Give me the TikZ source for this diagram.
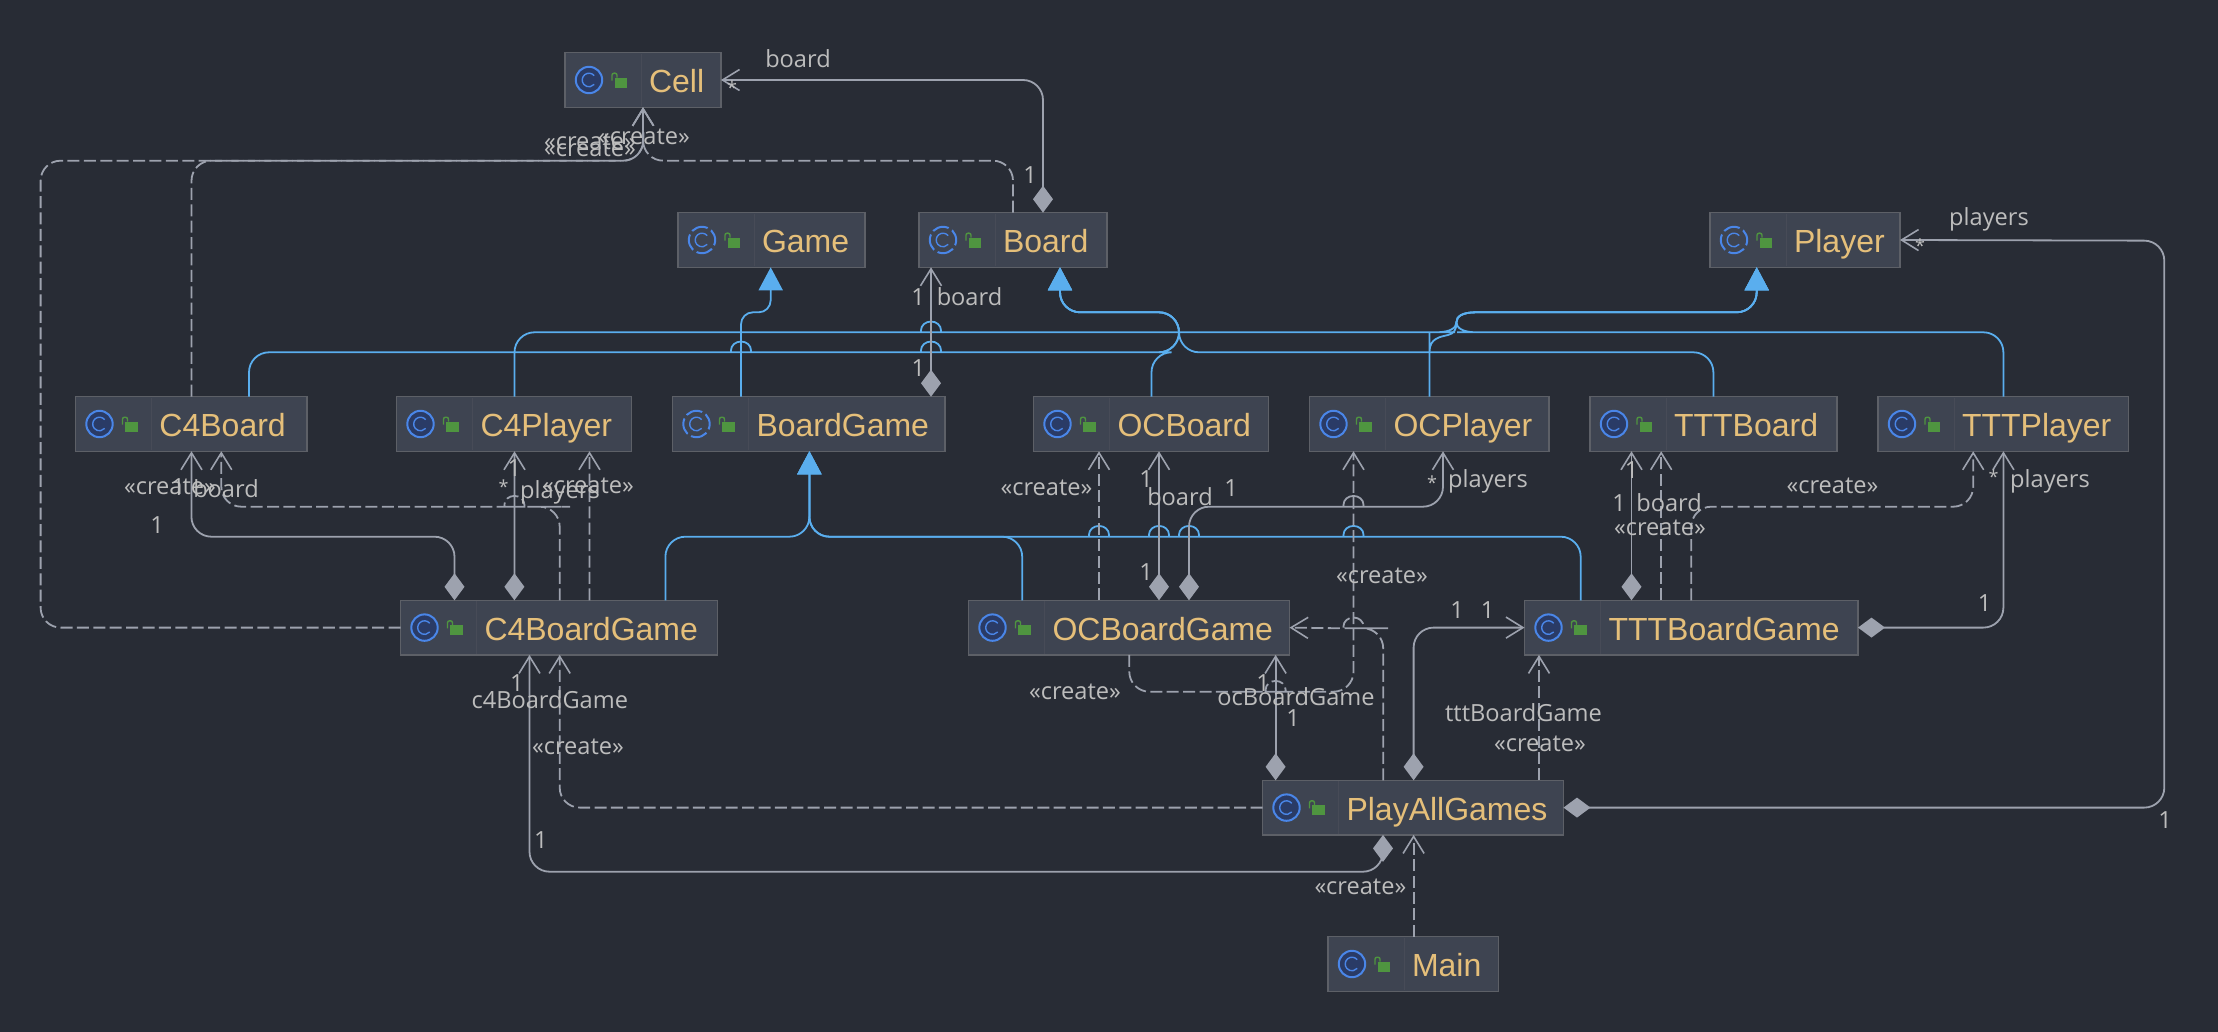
\documentclass[tikz,border=0pt]{standalone}
\usepackage{fontspec}
\usetikzlibrary{arrows.meta}
\newfontfamily\namefont{Liberation Sans}
\newfontfamily\lblfont{Open Sans}
\definecolor{bgc}{HTML}{282C35}
\definecolor{boxc}{HTML}{3E4451}
\definecolor{edgec}{HTML}{5D6067}
\definecolor{namec}{HTML}{E5BF7A}
\definecolor{linec}{HTML}{9DA2AE}
\definecolor{bluec}{HTML}{5AAEEE}
\definecolor{lblc}{HTML}{BDBDBD}
\definecolor{iconb}{HTML}{4A86E8}
\definecolor{iconf}{HTML}{2A3B66}
\definecolor{greenc}{HTML}{4F9540}
\definecolor{sepc}{HTML}{474B57}
\newcommand{\atT}[2]{([xshift=#2*0.5pt]#1.north west)}
\newcommand{\atB}[2]{([xshift=#2*0.5pt]#1.south west)}
\newcommand{\hopR}[2]{-- (#1-11,#2) [sharp corners] -- (#1-10,#2) -- (#1-10,#2-2) arc[start angle=180,end angle=0,x radius=5pt,y radius=4.4pt] -- (#1+10,#2) -- (#1+11,#2) [rounded corners=10pt] }
\newcommand{\hopL}[2]{-- (#1+11,#2) [sharp corners] -- (#1+10,#2) -- (#1+10,#2-2) arc[start angle=0,end angle=180,x radius=5pt,y radius=4.4pt] -- (#1-10,#2) -- (#1-11,#2) [rounded corners=10pt] }
\newcommand{\joinP}{.. controls (1456.4,316) and (1463,312.3) .. (1476,312.3) -- (1477,312.3) [rounded corners=10pt] -- (1756.7,312.3) -- \atB{Player}{46.7}}
\newcommand{\lockicon}[1]{%
  \draw[sepc,line width=0.5pt] ([shift={(76,1)}]#1.north west) -- ([shift={(76,-1)}]#1.south west);
  \fill[greenc] ([shift={(49.5,25)}]#1.north west) rectangle ([shift={(62,35)}]#1.north west);
  \draw[greenc,line width=0.7pt,rounded corners=1pt] ([shift={(47,28)}]#1.north west) -- ([shift={(47,20.5)}]#1.north west) -- ([shift={(52,20.5)}]#1.north west) -- ([shift={(52,25)}]#1.north west);}
\newcommand{\letterc}[1]{\draw[iconb,line width=0.7pt] ([shift={(24,27.3)}]#1.north west) ++(40:3.4pt) arc[start angle=40,end angle=320,radius=3.4pt];}
\newcommand{\clsicon}[1]{\lockicon{#1}%
  \draw[iconb,fill=iconf,line width=1pt] ([shift={(24,27.3)}]#1.north west) circle[radius=6.6pt];
  \letterc{#1}}
\newcommand{\absicon}[1]{\lockicon{#1}%
  \draw[iconb,line width=1pt,dash pattern=on 8.4pt off 2pt,dash phase=3pt] ([shift={(24,27.3)}]#1.north west) circle[radius=6.6pt];
  \letterc{#1}}
\tikzset{
  cls/.style={draw=edgec,fill=boxc,line width=0.7pt,anchor=north west,inner sep=0pt,outer sep=0pt,
    minimum height=27.3pt,text=namec,align=left,font=\namefont\fontsize{16}{16}\selectfont,
    text height=12.5pt,text depth=0pt},
  lbl/.style={text=lblc,inner sep=0pt,font=\lblfont\fontsize{11.8}{12}\selectfont},
  star/.style={text=lblc,inner sep=0pt,font=\lblfont\fontsize{9}{9}\selectfont},
  conn/.style={line width=0.9pt,rounded corners=10pt},
  open/.tip={Straight Barb[length=8.5pt,width=10.5pt,line width=0.8pt]},
  comp/.style={conn,draw=linec,{Diamond[length=13.5pt,width=10pt,fill=linec]}-{open}},
  dep/.style={conn,draw=linec,dash pattern=on 6pt off 2.2pt,-{open}},
  gen/.style={conn,draw=bluec,-{Triangle[length=11.5pt,width=12pt,fill=bluec]}}
}
\newcommand{\klass}[5]{\node[cls,minimum width=#4*0.5pt,text width=#4*0.5pt] (#1) at (#2,#3) {\hspace*{42pt}#5};}
\begin{document}
\begin{tikzpicture}[x=0.5pt,y=-0.5pt]
\fill[bgc] (0,0) rectangle (2218,1032);
\useasboundingbox (0,0) rectangle (2218,1032);
% classes
\klass{Cell}{565}{52.7}{156}{Cell}
\klass{Game}{678}{212.7}{187}{Game}
\klass{Board}{919}{212.7}{188}{Board}
\klass{Player}{1710}{212.7}{190}{Player}
\klass{C4Board}{75.5}{396.7}{231.5}{C4Board}
\klass{C4Player}{396.5}{396.7}{235}{C4Player}
\klass{BoardGame}{672.5}{396.7}{272.5}{BoardGame}
\klass{OCBoard}{1033.5}{396.7}{235}{OCBoard}
\klass{OCPlayer}{1309.5}{396.7}{239.5}{OCPlayer}
\klass{TTTBoard}{1590}{396.7}{247}{TTTBoard}
\klass{TTTPlayer}{1878}{396.7}{250.5}{TTTPlayer}
\klass{C4BG}{400.5}{600.3}{317}{C4BoardGame}
\klass{OCBG}{968.5}{600.3}{321}{OCBoardGame}
\klass{TTTBG}{1524.5}{600.3}{333.5}{TTTBoardGame}
\klass{PAG}{1262.5}{780.3}{301}{PlayAllGames}
\klass{Main}{1328}{936.7}{170.5}{Main}
\clsicon{Cell}\absicon{Game}\absicon{Board}\absicon{Player}
\clsicon{C4Board}\clsicon{C4Player}\absicon{BoardGame}\clsicon{OCBoard}\clsicon{OCPlayer}
\clsicon{TTTBoard}\clsicon{TTTPlayer}\clsicon{C4BG}\clsicon{OCBG}\clsicon{TTTBG}\clsicon{PAG}\clsicon{Main}
% generalisations
\draw[gen] \atT{C4Board}{173.5} |- (700,352.3) \hopR{741}{352.3} \hopR{931}{352.3} -- (1179,352.3) |- (1060,312.3) -- \atB{Board}{141};
\draw[gen] \atT{OCBoard}{118} |- (1179,352.3) |- (1060,312.3) -- \atB{Board}{141};
\draw[gen] \atT{TTTBoard}{123.4} |- (1179,352.3) |- (1060,312.3) -- \atB{Board}{141};
\draw[gen,rounded corners=6pt] \atT{BoardGame}{68.5} |- (770.7,312.3) -- \atB{Game}{92.7};
\draw[gen] \atT{C4Player}{118} |- (900,332.3) \hopR{931}{332.3} -- (1435,332.3) [sharp corners] -- (1436,332.3) .. controls (1450,332.3) and (1456.4,328) .. (1456.4,322.3) \joinP;
\draw[gen] \atT{OCPlayer}{120} -- (1429.5,353) [sharp corners] -- (1429.5,352) .. controls (1429.5,338) and (1440,337) .. (1448,335) .. controls (1454,333.5) and (1456.4,330) .. (1456.4,322.3) \joinP;
\draw[gen] \atT{TTTPlayer}{125.4} |- (1477,332.3) [sharp corners] -- (1476,332.3) .. controls (1463,332.3) and (1456.4,328) .. (1456.4,322.3) \joinP;
\draw[gen] \atT{C4BG}{264.9} |- (809.4,536.7) -- \atB{BoardGame}{136.9};
\draw[gen] \atT{OCBG}{53.7} |- (809.4,536.7) -- \atB{BoardGame}{136.9};
\draw[gen] \atT{TTTBG}{56.2} |- (1400,536.7) \hopL{1353.5}{536.7} \hopL{1189}{536.7} \hopL{1159}{536.7} \hopL{1099}{536.7} -- (809.4,536.7) -- \atB{BoardGame}{136.9};
% compositions
\draw[comp] \atT{Board}{124} |- (Cell.east);
\draw[comp] \atT{BoardGame}{258.5} -- \atB{Board}{12};
\draw[comp] \atT{C4BG}{54} |- (191.4,536.7) -- \atB{C4Board}{116};
\draw[comp] \atT{C4BG}{113.9} -- \atB{C4Player}{118};
\draw[comp] \atT{OCBG}{190.5} -- \atB{OCBoard}{125.5};
\draw[comp] \atT{OCBG}{220.5} |- (1300,506.7) \hopR{1353.5}{506.7} -- (1443,506.7) -- \atB{OCPlayer}{133.5};
\draw[comp] \atT{TTTBG}{107} -- \atB{TTTBoard}{41.5};
\draw[comp] (TTTBG.east) -| \atB{TTTPlayer}{125.4};
\draw[comp] \atT{PAG}{13.1} -- \atB{OCBG}{307.1};
\draw[comp] \atT{PAG}{151.1} |- (TTTBG.west);
\draw[comp] \atB{PAG}{120.5} |- (529.5,871.7) -- \atB{C4BG}{129};
\draw[comp] (PAG.east) -| (2164.3,240.7) -- (Player.east);
% dependencies
\draw[dep] (C4BG.west) -| (40.6,160.7) -- (643.2,160.7) -- \atB{Cell}{78};
\draw[dep] \atT{C4Board}{116} |- (643.2,160.7) -- \atB{Cell}{78};
\draw[dep] \atT{Board}{94} |- (643.2,160.7) -- \atB{Cell}{78};
\draw[dep] \atT{C4BG}{159.2} |- (550,506.7) \hopL{514.4}{506.7} -- (221.3,506.7) -- \atB{C4Board}{145.8};
\draw[dep] \atT{C4BG}{188.9} -- \atB{C4Player}{193};
\draw[dep] \atT{OCBG}{130.5} -- \atB{OCBoard}{65.5};
\draw[dep] \atB{OCBG}{160.8} |- (1240,691.7) \hopR{1275.6}{691.7} -- (1353.5,691.7) -- \atB{OCPlayer}{44};
\draw[dep] \atT{PAG}{120.7} |- (1368,628.3) \hopL{1353.5}{628.3} -- (OCBG.east);
\draw[dep] \atT{TTTBG}{136.7} -- \atB{TTTBoard}{71.2};
\draw[dep] \atT{TTTBG}{166.8} |- (1973.2,506.7) -- \atB{TTTPlayer}{95.2};
\draw[dep] \atT{PAG}{276.5} -- \atB{TTTBG}{14.5};
\draw[dep] (PAG.west) -| \atB{C4BG}{159.2};
\draw[dep] \atT{Main}{85.6} -- \atB{PAG}{151.1};
% labels
\node[lbl] (l1) at (798,59) {board};
\node[star] (l2) at (732,88) {*};
\node[lbl] (l3) at (1030,175) {1};
\node[lbl] (l4) at (590,141.7) {«create»};
\node[lbl] (l5) at (590,149) {«create»};
\node[lbl] (l6) at (644,137) {«create»};
\node[lbl] (l7) at (918,296.7) {1};
\node[lbl] (l8) at (969.5,296.7) {board};
\node[lbl] (l9) at (918.4,368.3) {1};
\node[lbl] (l10) at (170,486.7) {«create»};
\node[lbl] (l11) at (178.4,486.7) {1};
\node[lbl] (l12) at (226,489) {board};
\node[lbl] (l13) at (157,525) {1};
\node[lbl] (l14) at (514.4,468) {1};
\node[star] (l15) at (503.5,487) {*};
\node[lbl] (l16) at (560,492) {players};
\node[lbl] (l17) at (588,486) {«create»};
\node[lbl] (l18) at (1046.5,488) {«create»};
\node[lbl] (l19) at (1146,479) {1};
\node[lbl] (l20) at (1180,497) {board};
\node[lbl] (l21) at (1146,571.7) {1};
\node[lbl] (l22) at (1231,488) {1};
\node[star] (l23) at (1432,483) {*};
\node[lbl] (l24) at (1488,481) {players};
\node[lbl] (l25) at (1075,692) {«create»};
\node[lbl] (l26) at (1382,576) {«create»};
\node[lbl] (l27) at (1263,682.7) {1};
\node[lbl] (l28) at (1296,697) {ocBoardGame};
\node[lbl] (l29) at (1293,718) {1};
\node[lbl] (l30) at (1631.5,470) {1};
\node[lbl] (l31) at (1619,503) {1};
\node[lbl] (l32) at (1669,503) {board};
\node[lbl] (l33) at (1832.5,486) {«create»};
\node[lbl] (l34) at (1660,528) {«create»};
\node[lbl] (l35) at (1984.5,603) {1};
\node[star] (l36) at (1993.5,477) {*};
\node[lbl] (l37) at (2050,481.7) {players};
\node[lbl] (l38) at (1457,610) {1};
\node[lbl] (l39) at (1487.7,610) {1};
\node[lbl] (l40) at (1523.5,713) {tttBoardGame};
\node[lbl] (l41) at (1540,744.3) {«create»};
\node[lbl] (l42) at (516.8,683.3) {1};
\node[lbl] (l43) at (549.8,700) {c4BoardGame};
\node[lbl] (l44) at (540.8,840) {1};
\node[lbl] (l45) at (578,746.7) {«create»};
\node[lbl] (l46) at (1360.4,886.7) {«create»};
\node[lbl] (l47) at (2165,820) {1};
\node[star] (l48) at (1920,246) {*};
\node[lbl] (l49) at (1989,219) {players};
\end{tikzpicture}
\end{document}
